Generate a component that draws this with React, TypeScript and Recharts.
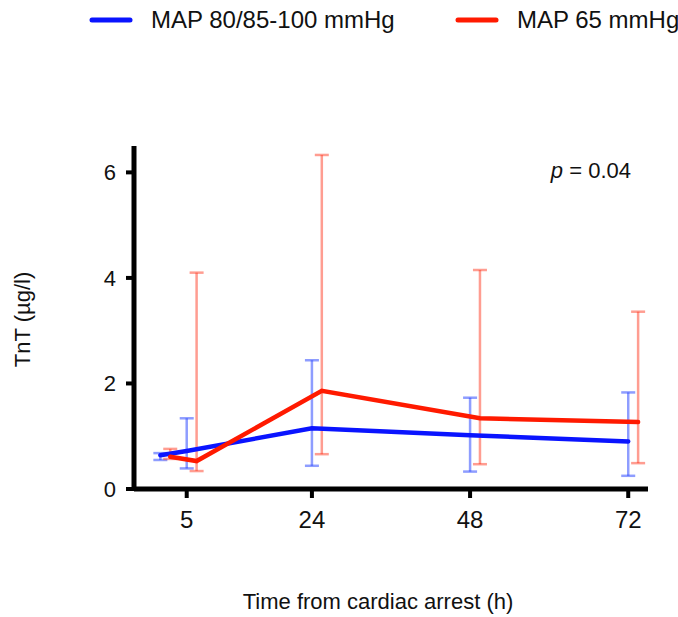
import { ComposedChart, Line, ErrorBar, XAxis, YAxis, Legend, Customized } from "recharts";

const FONT = '"Liberation Sans", Arial, Helvetica, sans-serif';

// sampling times (h after cardiac arrest); 1 h is the admission sample
const hours = [1, 5, 24, 48, 72];
const xTicks = [5, 24, 48, 72];
const yTicks = [0, 2, 4, 6];

// MAP 80/85-100 mmHg: median with IQR
const highMapMedian = [0.64, 0.72, 1.15, 1.02, 0.9];
const highMapQ1 = [0.55, 0.39, 0.44, 0.33, 0.25];
const highMapQ3 = [0.68, 1.34, 2.44, 1.73, 1.83];

// MAP 65 mmHg: median with IQR
const lowMapMedian = [0.61, 0.53, 1.86, 1.34, 1.27];
const lowMapQ1 = [0.57, 0.34, 0.66, 0.47, 0.49];
const lowMapQ3 = [0.76, 4.1, 6.33, 4.15, 3.36];

// second group is nudged right so the whiskers don't overlap
const DODGE_H = 1.5;

const BLUE = "#0a14ff";
const RED = "#ff1a00";
const BLUE_BAR = "rgba(30, 60, 255, 0.5)";
const RED_BAR = "rgba(255, 60, 35, 0.5)";

const legendItems = [
  { name: "MAP 80/85-100 mmHg", color: BLUE, left: 88 },
  { name: "MAP 65 mmHg", color: RED, left: 454 },
];

const buildRows = (median: number[], q1: number[], q3: number[], shift: number) =>
  hours.map((h, i) => ({
    hour: h + shift,
    value: median[i],
    iqr: [median[i] - q1[i], q3[i] - median[i]],
  }));

const blueRows = buildRows(highMapMedian, highMapQ1, highMapQ3, 0);
const redRows = buildRows(lowMapMedian, lowMapQ1, lowMapQ3, DODGE_H);

const renderLegend = () => (
  <div style={{ position: "relative", height: 42, fontFamily: FONT, fontSize: 24, color: "#111" }}>
    {legendItems.map((item) => (
      <div
        key={item.name}
        style={{ position: "absolute", left: item.left, top: 0, height: 40, display: "flex", alignItems: "center" }}
      >
        <svg width={46} height={8}>
          <line x1={4} x2={42} y1={4} y2={4} stroke={item.color} strokeWidth={5} strokeLinecap="round" />
        </svg>
        <span style={{ marginLeft: 17, whiteSpace: "nowrap" }}>{item.name}</span>
      </div>
    ))}
  </div>
);

const YTitle = ({ viewBox }: any) => {
  const cy = viewBox.y + viewBox.height / 2 + 2;
  return (
    <text x={30} y={cy} transform={`rotate(-90 30 ${cy})`} textAnchor="middle" fontFamily={FONT} fontSize={22} fill="#111">
      TnT (µg/l)
    </text>
  );
};

const XTitle = () => (
  <text x={378} y={609} textAnchor="middle" fontFamily={FONT} fontSize={22} fill="#111">
    Time from cardiac arrest (h)
  </text>
);

const PValue = () => (
  <text x={631} y={178} textAnchor="end" fontFamily={FONT} fontSize={22} fill="#111">
    <tspan fontStyle="italic">p</tspan> = 0.04
  </text>
);

export default function App() {
  return (
    <div style={{ position: "absolute", left: 0, top: 0, background: "#fff" }}>
      <ComposedChart width={678} height={617} margin={{ top: 146, right: 30, bottom: 0, left: 0 }}>
        <XAxis
          type="number"
          dataKey="hour"
          domain={[-3, 75]}
          ticks={xTicks}
          height={128}
          axisLine={{ stroke: "#000", strokeWidth: 5 }}
          tickLine={{ stroke: "#000", strokeWidth: 4 }}
          tickSize={9}
          tickMargin={13}
          tick={{ fill: "#111", fontSize: 24, fontFamily: FONT }}
          label={{ content: XTitle }}
        />
        <YAxis
          type="number"
          domain={[0, 6.5]}
          ticks={yTicks}
          width={134}
          axisLine={{ stroke: "#000", strokeWidth: 5 }}
          tickLine={{ stroke: "#000", strokeWidth: 4 }}
          tickSize={8}
          tickMargin={10}
          tick={{ fill: "#111", fontSize: 22, fontFamily: FONT }}
          label={{ content: YTitle }}
        />

        {/* whiskers first so the median lines sit on top */}
        <Line data={blueRows} dataKey="value" stroke="none" dot={false} legendType="none" isAnimationActive={false}>
          <ErrorBar dataKey="iqr" direction="y" width={7} stroke={BLUE_BAR} strokeWidth={2.5} isAnimationActive={false} />
        </Line>
        <Line data={redRows} dataKey="value" stroke="none" dot={false} legendType="none" isAnimationActive={false}>
          <ErrorBar dataKey="iqr" direction="y" width={7} stroke={RED_BAR} strokeWidth={2.5} isAnimationActive={false} />
        </Line>

        <Line
          data={blueRows}
          dataKey="value"
          name="MAP 80/85-100 mmHg"
          type="linear"
          stroke={BLUE}
          strokeWidth={4.5}
          strokeLinecap="round"
          dot={false}
          activeDot={false}
          isAnimationActive={false}
        />
        <Line
          data={redRows}
          dataKey="value"
          name="MAP 65 mmHg"
          type="linear"
          stroke={RED}
          strokeWidth={4.5}
          strokeLinecap="round"
          dot={false}
          activeDot={false}
          isAnimationActive={false}
        />

        <Legend
          content={renderLegend}
          layout="horizontal"
          verticalAlign="middle"
          align="center"
          wrapperStyle={{ top: 0, left: 0, width: 678, height: 42 }}
        />
        <Customized component={PValue} />
      </ComposedChart>
    </div>
  );
}
